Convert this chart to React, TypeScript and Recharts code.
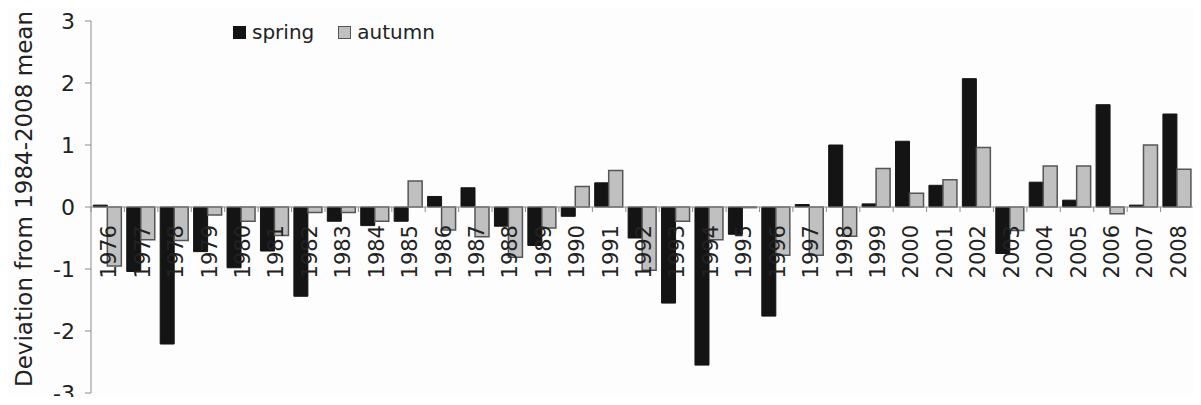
import { BarChart, Bar, XAxis, YAxis, ReferenceLine, Legend } from 'recharts';

const INK = '#222222';
const AXIS = '#8c8c8c';
const SPRING_FILL = '#141414';
const AUTUMN_FILL = '#c0c0c0';
const AUTUMN_EDGE = '#555555';
const FONT = '"DejaVu Sans", Arial, sans-serif';

const W = 1201;
const H = 405;
const MARGIN = { top: 21, right: 7, bottom: 11, left: 0 };
const Y_AXIS_W = 91;
const X_AXIS_H = 1;

const YEARS = [
  '1976', '1977', '1978', '1979', '1980', '1981', '1982', '1983', '1984', '1985', '1986',
  '1987', '1988', '1989', '1990', '1991', '1992', '1993', '1994', '1995', '1996', '1997',
  '1998', '1999', '2000', '2001', '2002', '2003', '2004', '2005', '2006', '2007', '2008',
];

const SPRING = [
  0.03, -1.04, -2.21, -0.72, -0.98, -0.71, -1.44, -0.23, -0.3, -0.23, 0.17,
  0.31, -0.31, -0.62, -0.15, 0.39, -0.5, -1.55, -2.55, -0.44, -1.76, 0.04,
  1.0, 0.05, 1.06, 0.35, 2.07, -0.75, 0.4, 0.11, 1.65, 0.03, 1.5,
];

const AUTUMN = [
  -0.95, -0.53, -0.54, -0.13, -0.23, -0.46, -0.09, -0.09, -0.23, 0.42, -0.37,
  -0.48, -0.81, -0.34, 0.33, 0.59, -1.02, -0.23, -0.53, -0.01, -0.78, -0.78,
  -0.47, 0.62, 0.22, 0.44, 0.96, -0.38, 0.66, 0.66, -0.11, 1.0, 0.61,
];

const Y_TICKS = [-3, -2, -1, 0, 1, 2, 3];
const Y_LABEL = 'Deviation from 1984-2008 mean';

const SERIES = [
  { key: 'spring', fill: SPRING_FILL, stroke: SPRING_FILL },
  { key: 'autumn', fill: AUTUMN_FILL, stroke: AUTUMN_EDGE },
];

const data = YEARS.map((year, i) => ({ year, spring: SPRING[i], autumn: AUTUMN[i] }));

// plot box, used to hang the year labels on the zero line
const PLOT_TOP = MARGIN.top;
const PLOT_H = H - MARGIN.top - MARGIN.bottom - X_AXIS_H;
const PLOT_W = W - MARGIN.left - MARGIN.right - Y_AXIS_W;
const ZERO_Y = PLOT_TOP + PLOT_H * (3 / 6);

function YearTick(props: any) {
  const { x, payload, index } = props;
  const band = PLOT_W / YEARS.length;
  const ty = ZERO_Y + 18;
  return (
    <g>
      <line x1={x - band / 2} x2={x - band / 2} y1={ZERO_Y} y2={ZERO_Y + 5} stroke={AXIS} />
      {index === YEARS.length - 1 && (
        <line x1={x + band / 2} x2={x + band / 2} y1={ZERO_Y} y2={ZERO_Y + 5} stroke={AXIS} />
      )}
      <text
        x={x + 1}
        y={ty}
        dy="0.36em"
        textAnchor="end"
        transform={`rotate(-90 ${x + 1} ${ty})`}
        fill={INK}
        fontSize={21}
        fontFamily={FONT}
      >
        {payload.value}
      </text>
    </g>
  );
}

function LegendBox() {
  return (
    <div style={{ display: 'flex', alignItems: 'center', fontFamily: FONT, fontSize: 20, color: INK }}>
      {SERIES.map((s, i) => (
        <div key={s.key} style={{ display: 'flex', alignItems: 'center', marginRight: i === 0 ? 24 : 0 }}>
          <span
            style={{
              display: 'inline-block',
              width: 11,
              height: 11,
              background: s.fill,
              border: `1px solid ${s.stroke}`,
              marginRight: 6,
            }}
          />
          <span>{s.key}</span>
        </div>
      ))}
    </div>
  );
}

function YLabel() {
  const cy = PLOT_TOP + PLOT_H / 2 - 8;
  return (
    <text
      x={24}
      y={cy}
      dy="0.36em"
      textAnchor="middle"
      transform={`rotate(-90 24 ${cy})`}
      fill={INK}
      fontSize={23}
      fontFamily={FONT}
    >
      {Y_LABEL}
    </text>
  );
}

export default function App() {
  return (
    <div style={{ width: W, height: H, background: '#fdfdfd', margin: -8, position: 'relative' }}>
      <BarChart width={W} height={H} data={data} margin={MARGIN} barCategoryGap="7%" barGap={0}>
        <ReferenceLine y={0} stroke={AXIS} strokeWidth={1} />
        <XAxis
          dataKey="year"
          height={X_AXIS_H}
          axisLine={false}
          tickLine={false}
          interval={0}
          tick={<YearTick />}
        />
        <YAxis
          width={Y_AXIS_W}
          domain={[-3, 3]}
          ticks={Y_TICKS}
          interval={0}
          axisLine={{ stroke: AXIS }}
          tickLine={{ stroke: AXIS }}
          tickSize={6}
          tickMargin={10}
          tick={{ fill: INK, fontSize: 22, fontFamily: FONT }}
          label={{ content: <YLabel /> }}
        />
        <Legend
          layout="horizontal"
          verticalAlign="middle"
          align="center"
          content={<LegendBox />}
          wrapperStyle={{ position: 'absolute', top: 20, left: 233, width: 'auto' }}
        />
        {SERIES.map((s) => (
          <Bar
            key={s.key}
            dataKey={s.key}
            fill={s.fill}
            stroke={s.stroke}
            strokeWidth={s.key === 'autumn' ? 1.5 : 1}
            isAnimationActive={false}
          />
        ))}
      </BarChart>
    </div>
  );
}
